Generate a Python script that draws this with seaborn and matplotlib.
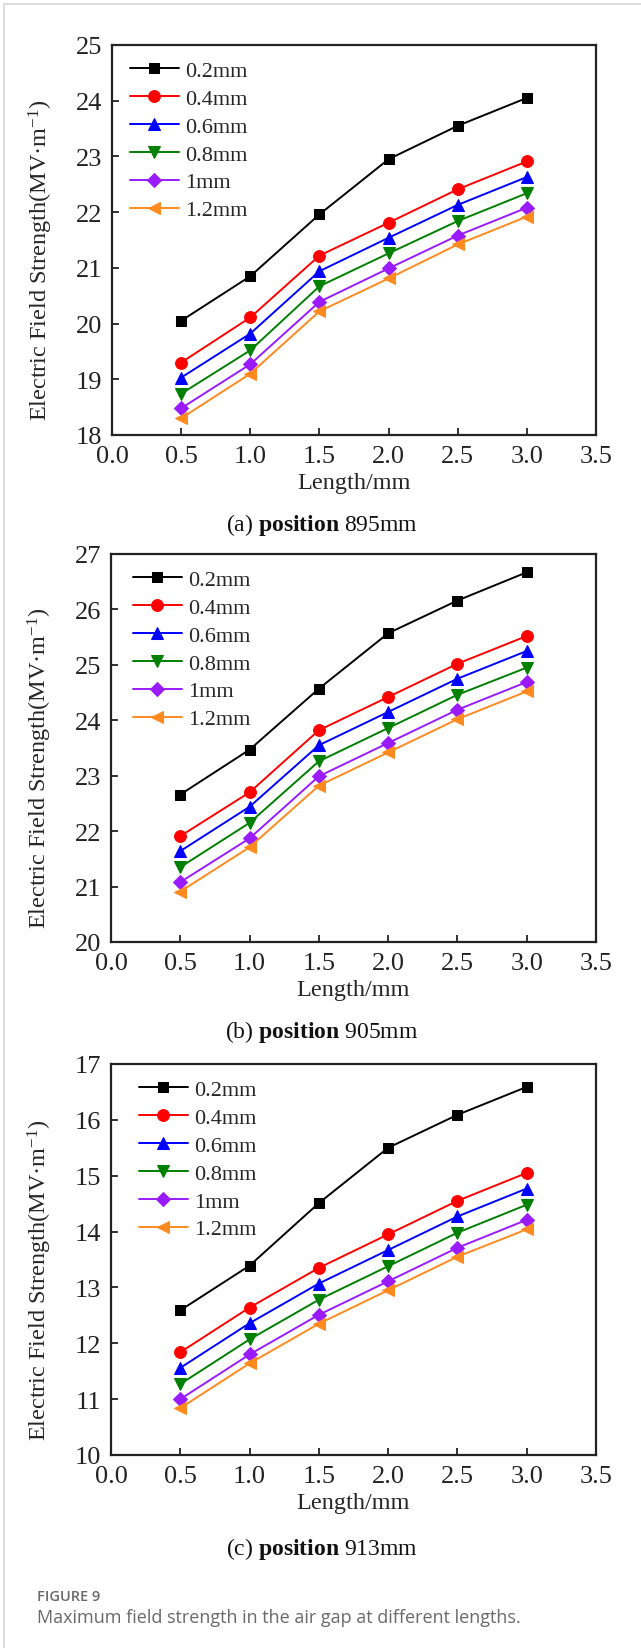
import numpy as np
import pandas as pd
import seaborn as sns
import matplotlib.pyplot as plt
from matplotlib.lines import Line2D

# ------------------------------------------------------------
# Data (max field strength, MV/m)
# ------------------------------------------------------------
LENGTHS = [0.5, 1.0, 1.5, 2.0, 2.5, 3.0]
GAPS = ["0.2mm", "0.4mm", "0.6mm", "0.8mm", "1mm", "1.2mm"]

# (a) position 895mm
POS_895 = {
    "0.2mm": [20.05, 20.85, 21.96, 22.95, 23.55, 24.05],
    "0.4mm": [19.30, 20.11, 21.22, 21.81, 22.41, 22.91],
    "0.6mm": [19.03, 19.82, 20.94, 21.54, 22.13, 22.63],
    "0.8mm": [18.74, 19.52, 20.67, 21.26, 21.84, 22.34],
    "1mm":   [18.48, 19.27, 20.39, 20.99, 21.58, 22.08],
    "1.2mm": [18.30, 19.10, 20.22, 20.81, 21.42, 21.92],
}

# (b) position 905mm
POS_905 = {
    "0.2mm": [22.66, 23.47, 24.57, 25.57, 26.16, 26.67],
    "0.4mm": [21.91, 22.70, 23.82, 24.42, 25.02, 25.52],
    "0.6mm": [21.64, 22.44, 23.55, 24.15, 24.75, 25.25],
    "0.8mm": [21.35, 22.15, 23.26, 23.86, 24.46, 24.95],
    "1mm":   [21.08, 21.87, 22.99, 23.59, 24.19, 24.69],
    "1.2mm": [20.91, 21.71, 22.82, 23.42, 24.02, 24.52],
}

# (c) position 913mm
POS_913 = {
    "0.2mm": [12.59, 13.39, 14.51, 15.50, 16.09, 16.59],
    "0.4mm": [11.84, 12.64, 13.35, 13.95, 14.55, 15.05],
    "0.6mm": [11.56, 12.36, 13.07, 13.67, 14.27, 14.77],
    "0.8mm": [11.27, 12.07, 12.78, 13.38, 13.98, 14.48],
    "1mm":   [11.00, 11.80, 12.51, 13.11, 13.71, 14.21],
    "1.2mm": [10.84, 11.64, 12.35, 12.95, 13.55, 14.04],
}

PANELS = [
    ("(a)", "895mm", POS_895, (18, 25)),
    ("(b)", "905mm", POS_905, (20, 27)),
    ("(c)", "913mm", POS_913, (10, 17)),
]

COLORS = {
    "0.2mm": "#000000",
    "0.4mm": "#FF0000",
    "0.6mm": "#0000FF",
    "0.8mm": "#008000",
    "1mm": "#9A1BFF",
    "1.2mm": "#FF8A1E",
}
MARKERS = {
    "0.2mm": "s",
    "0.4mm": "o",
    "0.6mm": "^",
    "0.8mm": "v",
    "1mm": "D",
    "1.2mm": "<",
}
MARKER_SIZES = {"s": 7.5, "o": 8.5, "^": 8.5, "v": 8.5, "D": 7, "<": 8.5}

sns.set_style("white")
plt.rcParams["font.family"] = ["Liberation Serif", "DejaVu Serif"]
plt.rcParams["mathtext.fontset"] = "custom"
plt.rcParams["mathtext.rm"] = "Liberation Serif"
plt.rcParams["mathtext.it"] = "Liberation Serif:italic"
plt.rcParams["mathtext.bf"] = "Liberation Serif:bold"

W, H = 641, 1649
fig = plt.figure(figsize=(W / 100, H / 100), dpi=100)

# axes boxes in pixels: (left, top, right, bottom)
boxes = [(112, 46, 596, 436), (111, 555, 596, 943), (111, 1065, 596, 1456)]
legend_x = [0.028, 0.036, 0.048]
title_y = [525, 1032, 1549]

for (tag, pos, data, ylim), (l, t, r, b), lx, ty in zip(PANELS, boxes, legend_x, title_y):
    ax = fig.add_axes([l / W, 1 - b / H, (r - l) / W, (b - t) / H])

    long_df = pd.DataFrame(
        [(g, x, v) for g in GAPS for x, v in zip(LENGTHS, data[g])],
        columns=["gap", "length", "value"],
    )
    for g in GAPS:
        sub = long_df[long_df["gap"] == g]
        m = MARKERS[g]
        sns.lineplot(
            data=sub, x="length", y="value", ax=ax,
            color=COLORS[g], marker=m, markersize=MARKER_SIZES[m],
            markeredgecolor=COLORS[g], linewidth=1.4, label=g,
        )

    ax.set_xlim(0, 3.5)
    ax.set_ylim(*ylim)
    ax.set_xticks(np.arange(0, 3.51, 0.5))
    ax.set_xticklabels([f"{v:.1f}" for v in np.arange(0, 3.51, 0.5)])
    ax.set_yticks(np.arange(ylim[0], ylim[1] + 1, 1))

    for sp in ax.spines.values():
        sp.set_visible(True)
        sp.set_linewidth(1.6)
        sp.set_color("#222222")
    ax.tick_params(direction="in", length=5, width=1.3, labelsize=19,
                   left=True, bottom=True, top=False, right=False,
                   colors="#222222")
    ax.tick_params(axis="x", pad=7)
    ax.tick_params(axis="y", pad=7)
    ax.set_xlabel("Length/mm", fontsize=17.5, labelpad=4)
    ax.set_ylabel("Electric Field Strength(MV·m$^{-1}$)", fontsize=17.5)
    ax.yaxis.set_label_coords(-0.118, 0.45)

    ax.legend(
        loc="upper left", bbox_to_anchor=(lx, 0.972), frameon=False,
        fontsize=16, handlelength=2.2, handletextpad=0.3,
        labelspacing=0.33, borderaxespad=0, borderpad=0.2,
    )

    fig.text(322 / W, 1 - ty / H, f"{tag} $\\mathbf{{position}}$ {pos}",
             ha="center", va="center", fontsize=17, color="#111111")

# caption
fig.text(37 / W, 1 - 1597 / H, "FIGURE 9", fontsize=10.5, color="#6a6a6a",
         family=["Open Sans", "DejaVu Sans"], fontweight="semibold",
         ha="left", va="center")
fig.text(37 / W, 1 - 1618 / H,
         "Maximum field strength in the air gap at different lengths.",
         fontsize=13, color="#6a6a6a", family=["Open Sans", "DejaVu Sans"],
         ha="left", va="center")

# light frame lines (left and top)
fig.add_artist(Line2D([4 / W, 4 / W], [0, 1 - 5 / H], transform=fig.transFigure,
                      color="#d8d8d8", linewidth=1.2))
fig.add_artist(Line2D([4 / W, 1], [1 - 5 / H, 1 - 5 / H], transform=fig.transFigure,
                      color="#d8d8d8", linewidth=1.2))

fig.savefig("out.png", dpi=100)
